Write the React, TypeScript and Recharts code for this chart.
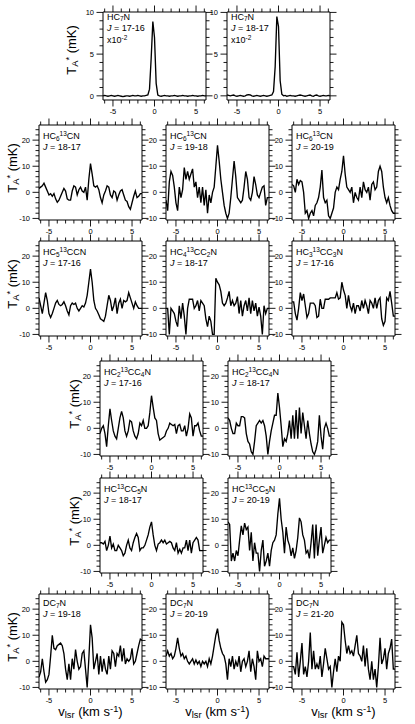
import React from "react";
import { LineChart, Line, XAxis, YAxis } from "recharts";

const FONT = '"Liberation Sans", Arial, Helvetica, sans-serif';

// channel velocities, km/s
const velocity = [
  -6.2, -6.0, -5.8, -5.6, -5.4, -5.2, -5.0, -4.8, -4.6, -4.4,
  -4.2, -4.0, -3.8, -3.6, -3.4, -3.2, -3.0, -2.8, -2.6, -2.4,
  -2.2, -2.0, -1.8, -1.6, -1.4, -1.2, -1.0, -0.8, -0.6, -0.4,
  -0.2, 0, 0.2, 0.4, 0.6, 0.8, 1.0, 1.2, 1.4, 1.6,
  1.8, 2.0, 2.2, 2.4, 2.6, 2.8, 3.0, 3.2, 3.4, 3.6,
  3.8, 4.0, 4.2, 4.4, 4.6, 4.8, 5.0, 5.2, 5.4, 5.6,
  5.8, 6.0, 6.2,
];

const xTicks = [-6, -5, -4, -3, -2, -1, 0, 1, 2, 3, 4, 5, 6];
const xMajor = [-5, 0, 5];
const yTicks = [-10, -8, -6, -4, -2, 0, 2, 4, 6, 8, 10, 12, 14, 16, 18, 20, 22, 24];
const yMajor = [-10, 0, 10, 20];
const yTicksTop = [0, 1, 2, 3, 4, 5, 6, 7, 8, 9, 10];
const yMajorTop = [0, 5, 10];

// HC7N (x10^-2 mK)
const hc7n1716 = [
  0, 0.05, 0, -0.05, 0, 0.05, 0, -0.05, 0, 0.05,
  0, -0.05, -0.1, -0.05, 0, 0, -0.05, 0, 0.05, 0,
  0, 0.05, 0, -0.05, 0, 0, 0.05, 0.1, 0.8, 4.5,
  8.9, 7.0, 1.5, 0.1, 0, -0.05, 0, 0.05, 0, 0,
  -0.05, 0, 0, 0.05, 0, -0.05, 0, 0, 0.05, 0,
  0, -0.05, 0, 0, 0.05, 0, 0, -0.05, 0, 0,
  0.05, 0, 0,
];
const hc7n1817 = [
  0.1, 0.05, 0, 0.05, 0.1, 0, -0.05, 0, 0.05, 0,
  -0.05, 0, 0.1, 0.15, 0.1, 0, -0.05, 0, 0.05, 0,
  -0.05, 0, 0.05, 0, -0.05, 0, 0.05, 0.1, 0.5, 3.5,
  9.5, 8.3, 1.8, 0.2, 0, 0.05, -0.05, 0, 0.05, 0,
  0, -0.05, 0, 0.05, 0.1, 0.05, 0, -0.05, 0, 0.05,
  0.1, 0, -0.05, 0.05, 0.1, 0, -0.05, 0, 0.05, 0,
  0, 0.05, 0,
];

// HC6 13CN
const hc6c1817 = [
  1.5, 2.0, 2.5, 3.5, 2.0, 0.5, -1.0, -0.5, -1.5, -0.5,
  -2.5, -3.8, -3.0, -1.5, 0, 1.5, 0.5, -2.5, -3.0, -3.0,
  0.5, 2.5, 2.0, -1.0, 1.0, 2.0, 0.5, 0.0, 2.0, -3.0,
  5.0, 11.0, 7.0, 2.5, 2.0, 2.5, 1.0, -2.0, -4.0, -1.0,
  0.5, 2.5, 2.0, -1.0, -2.0, 0.5, 0.0, -3.0, -1.0, 0.5,
  1.0, -1.0, -3.0, -3.5, -5.5, -6.5, -4.0, -1.5, 0.5, -2.0,
  -1.5, -0.5, -0.5,
];
const hc6c1918 = [
  -3, -7, 4, 8, 6.5, 2, -4, -7, 2, -2,
  1, 9.5, 5, 8, 5, 7, 9, 2, 4, -2,
  2, -4, 2, -5, 1, -8, -1, -4, 0, 2,
  10, 18, 12, 5, 0, -5, -8, -10, -8, -2,
  5, 12, 6, -2, -3, -4, -3, 2, 8, 5,
  -2, -3, 0, 6, 3, -1, -2, 0, 2, 2.5,
  -5, -2, -2,
];
const hc6c2019 = [
  3, 2.5, 0, 5, 3, 4.5, 4, 0, -8, -7,
  -10, -8, -7, -9, -5, -4, -2, 2, 8.5, -2,
  -4, -3, -9, -10, -8, -6, 0, 2, 1, 5,
  8, 14, 7, 2, 1, 0, 2, -4, 0, -2,
  -3, 2, -2, 4, 1, 0, 2, -3, 3, 4,
  1, 2, 8, 10, 8, 2, -2, -4, -2, -5,
  -7, -8, -8,
];

// HC5 13CCN, HC4 13CC2N, HC3 13CC3N
const hc5c1716 = [
  4, 1, -2, 2, 6, 3, -2, -3.5, -2, 0,
  2, 3, 1.5, 1, 1.5, 2.5, 1, -1, -2.5, 1,
  2, 1.5, 2, 0, -1, 0, 1, 0.5, 2, 5,
  10, 15, 10, 3, 0, -1, -2.5, -4, -4.5, -5,
  -3, 1, 5, 3, -1, 1, 4, -2, 2, 3.5,
  0, 3, 2.5, 3, 6, 4, 2, 0, 2.5, 1,
  0, 0, 0,
];
const hc4c1817 = [
  0, 0, -10, 0, -1, -2, -5, -7, 1, -4,
  2, -3, -10, 0, 3.5, 3.5, 3.5, 0, 1, 3,
  -1, 3, 2, 1, -4, -7, -3, -5, -10, -10,
  11.5, 10, 9, 6.5, 2, 1, 2, 4, 6.5, 1,
  3, 1, 2, 4.5, -2, 3, -3, 1, 3, -1,
  4, -2, 3, -1, 2, -3, 0.5, -3, -10, 1,
  -2, 0, 0,
];
const hc3c1716 = [
  2.5, 2.5, -2, -4.5, 0, 6, 3, 5.5, 1, -3.5,
  -2, 2, 2, 2, 1, -3.5, -3, 3.5, 0, 0,
  3.5, 3.5, 3.5, 4, 4, 4, 4, 6, 3.5, 4,
  10, 7, 5, 0, 5, 1, -1, 2, -2, 1,
  1, -1, 3, 0, 3, 1, -2, 3, 2, 0,
  4, 0, 3, 4, -4, -6.5, -5, 4, 3, 6.5,
  2, -3, -3,
];

// HC2 13CC4N
const hc2c1716 = [
  -2, 0, 1, -2, -7, 1, 7.5, 3, -1, -3,
  -4, 0, 4, 6.5, 4, -1, -3, -1, 3, 2.5,
  -1, -3, -4, -2, 2, 1, 3, 0, 0, 1,
  6, 12.5, 8, 4, 3, -2, -4.5, -4, -3.5, -3,
  -1, 0, 2, 1.5, 1, 1.5, -2, 1, 1.5, -1,
  -1, 1, -3, 0, 5.5, 4, -3, 1, 1, 2,
  -1, -3, -3,
];
const hc2c1817 = [
  4, 3, 0, -2, -2, 2, 1, 1, 4.5, 4.5,
  4, -2, -5, -6, -9, -10, -5, 1, 2, 3,
  2, 3, 1, -3, -10, -5, -1, 2, 5, 5,
  13.5, 8, 1, -7, -4, -5, -2, 3, -4, 5,
  -4, 7, -4, 8, -2, 6, 1, -4, 3, -2,
  -6, -9, -10, -8, -5, 5, -3, -8, 0, 2,
  0, -3, -3,
];

// HC 13CC5N
const hc1c1817 = [
  1, 1, 0.5, 1.5, -2, 0, 3.5, -1, 0.5, -2,
  -2, 0, -1, -2, -4, -3, 0, 2, -1, -2,
  1, 3, 4.5, 3, -2, -1, -1, 0, 2, 4,
  7, 9, 4, 0, -2, 0.5, 1, 2, 1, 2,
  0.5, 1, 1.5, 1, -1, -2, 1, -3, -1.5, -3,
  -1, -1, 2, -2, 2, -3, 1, 2, 3, 2,
  -2, -2, -2,
];
const hc1c2019 = [
  9, 8, -6, -3, -6, -2, -4, 2, 7.5, 4,
  8.5, 6, 7, -2, 5, -6, 1, -3, -3, -10,
  -2, 2, -8, -6, -3, -8, -2, 1, 2, 4,
  12, 18, 10, 5, -3, 7, 2, 0, -4, -1,
  -5, -2, 3, 10.5, 9, 4, 2, -3, -2, -5,
  1, 8, -5, 8, -4, 2, 7, -3, 0, 3,
  1, 2, 2,
];

// DC7N
const dc7n1918 = [
  -6, -4, 1, -4, -8, -7, -5, 2, 10, 5,
  4.5, 6, 6.5, 7, 6, 3, -3, -7, -1, -7,
  1, -3, 4.5, 0, -3, -2, 3, 4, -3, -10,
  1, 14, 9, -3, 0, 3, -5, 2, -4, 1,
  -3, -5, 2, -3, 4, 3, -2, 3, 2, 6,
  0, 5, -1, 1, 0, 1, 5, -1, 0, 3,
  6, 8.5, 8,
];
const dc7n2019 = [
  2, 4, 2, 3, 1, 2, 5, 9, 5, 2,
  3, 1, 2, 0, -1, 0, 1, -1, 0.5, -1,
  0, -2, 0, -1, 0, -2, 1, -1, 2, 6,
  10, 12.5, 8, 5, 3, 2, -1, -7, 1, -2,
  2, -3, 0, -2, 2, -4, 0, 1, -2, 0,
  4, -4, 1, -2, -7, 4, 0, 1, -2, 2,
  1, 1, 1,
];
const dc7n2120 = [
  -2, -2, -5, 3.5, -6, 0, 7, -5, -2, -6,
  0, 11, -3, 4, -3, -1, -3, 2, -6, -1,
  5, 1, -3, -2, -10, -4, 1, -4, 2, 0,
  15, 14, 8, 3, 6, 3, 4, 2, 6, 10,
  3, 2, 0, 6, -2, 5, -3, -7, 0, -7,
  -3, -10, -2, 9, -1, 1, 5, -3, 3, 5,
  8.5, -3, -3,
];

const Sub = ({ t }: { t: string }) => (
  <span style={{ fontSize: "0.72em", position: "relative", top: "0.25em" }}>{t}</span>
);
const Sup = ({ t }: { t: string }) => (
  <span style={{ fontSize: "0.72em", position: "relative", top: "-0.45em" }}>{t}</span>
);

type Side = "bottom" | "top" | "left" | "right";

function makeTick(side: Side, majors: number[], labels: boolean) {
  return function Tick(props: any) {
    const { x, y, payload } = props;
    const v: number = payload.value;
    const major = majors.includes(v);
    const len = major ? 6.5 : 3.5;
    const dx = side === "left" ? -len : side === "right" ? len : 0;
    const dy = side === "bottom" ? len : side === "top" ? -len : 0;
    return (
      <g>
        <line x1={x} y1={y} x2={x + dx} y2={y + dy} stroke="#000" strokeWidth={0.9} />
        {labels && major && side === "bottom" && (
          <text x={x} y={y + 13.5} textAnchor="middle" fontSize={7.5} fontFamily={FONT} fill="#000">
            {v}
          </text>
        )}
        {labels && major && side === "left" && (
          <text x={x - 9} y={y + 2.7} textAnchor="end" fontSize={7.5} fontFamily={FONT} fill="#000">
            {v}
          </text>
        )}
      </g>
    );
  };
}

const bottomTick = makeTick("bottom", xMajor, true);
const topTick = makeTick("top", xMajor, false);
const leftTick = makeTick("left", yMajor, true);
const rightTick = makeTick("right", yMajor, false);
const leftTickTop = makeTick("left", yMajorTop, true);
const rightTickTop = makeTick("right", yMajorTop, false);

const BOX_W = 103;
const ML = 30;
const MR = 8;
const MT = 8;
const MB = 18;

type Panel = {
  x: number;
  y: number;
  values: number[];
  mol: React.ReactNode;
  trans: string;
  top?: boolean;
  textDy: number;
};

const panels: Panel[] = [
  { x: 103, y: 12, values: hc7n1716, top: true, textDy: -0.5, trans: "17-16", mol: <>HC<Sub t="7" />N</> },
  { x: 227, y: 12, values: hc7n1817, top: true, textDy: -0.5, trans: "18-17", mol: <>HC<Sub t="7" />N</> },
  { x: 39, y: 125, values: hc6c1817, textDy: 6, trans: "18-17", mol: <>HC<Sub t="6" /><Sup t="13" />CN</> },
  { x: 166, y: 125, values: hc6c1918, textDy: 6, trans: "19-18", mol: <>HC<Sub t="6" /><Sup t="13" />CN</> },
  { x: 292, y: 125, values: hc6c2019, textDy: 6, trans: "20-19", mol: <>HC<Sub t="6" /><Sup t="13" />CN</> },
  { x: 39, y: 241, values: hc5c1716, textDy: 6, trans: "17-16", mol: <>HC<Sub t="5" /><Sup t="13" />CCN</> },
  { x: 166, y: 241, values: hc4c1817, textDy: 6, trans: "18-17", mol: <>HC<Sub t="4" /><Sup t="13" />CC<Sub t="2" />N</> },
  { x: 292, y: 241, values: hc3c1716, textDy: 6, trans: "17-16", mol: <>HC<Sub t="3" /><Sup t="13" />CC<Sub t="3" />N</> },
  { x: 100, y: 361, values: hc2c1716, textDy: 6, trans: "17-16", mol: <>HC<Sub t="2" /><Sup t="13" />CC<Sub t="4" />N</> },
  { x: 228, y: 361, values: hc2c1817, textDy: 6, trans: "18-17", mol: <>HC<Sub t="2" /><Sup t="13" />CC<Sub t="4" />N</> },
  { x: 100, y: 478, values: hc1c1817, textDy: 6, trans: "18-17", mol: <>HC<Sup t="13" />CC<Sub t="5" />N</> },
  { x: 228, y: 478, values: hc1c2019, textDy: 6, trans: "20-19", mol: <>HC<Sup t="13" />CC<Sub t="5" />N</> },
  { x: 39, y: 594, values: dc7n1918, textDy: 4, trans: "19-18", mol: <>DC<Sub t="7" />N</> },
  { x: 166, y: 594, values: dc7n2019, textDy: 4, trans: "20-19", mol: <>DC<Sub t="7" />N</> },
  { x: 292, y: 594, values: dc7n2120, textDy: 4, trans: "21-20", mol: <>DC<Sub t="7" />N</> },
];

// y-title centres for each row
const yTitles = [
  [72, 50],
  [12.5, 168],
  [12.5, 284],
  [75, 404],
  [75, 521],
  [12.5, 637],
];

function Spectrum({ p }: { p: Panel }) {
  const boxH = p.top ? 88 : 95;
  const domain = p.top ? [-0.5, 10.05] : [-10.6, 25.8];
  const data = velocity.map((v, i) => ({ v, t: p.values[i] }));
  const axisLine = { stroke: "#000", strokeWidth: 1 };
  return (
    <div style={{ position: "absolute", left: p.x - ML, top: p.y - MT }}>
      <LineChart
        width={ML + BOX_W + MR}
        height={MT + boxH + MB}
        data={data}
        margin={{ top: 0, right: 0, bottom: 0, left: 0 }}
      >
        <XAxis
          dataKey="v"
          type="number"
          domain={[-6.2, 6.2]}
          allowDataOverflow
          ticks={xTicks}
          interval={0}
          tickSize={0}
          tickMargin={0}
          tickLine={false}
          tick={bottomTick}
          axisLine={axisLine}
          height={MB}
        />
        <XAxis
          xAxisId="top"
          orientation="top"
          dataKey="v"
          type="number"
          domain={[-6.2, 6.2]}
          allowDataOverflow
          ticks={xTicks}
          interval={0}
          tickSize={0}
          tickMargin={0}
          tickLine={false}
          tick={topTick}
          axisLine={axisLine}
          height={MT}
        />
        <YAxis
          type="number"
          domain={domain}
          allowDataOverflow
          ticks={p.top ? yTicksTop : yTicks}
          interval={0}
          tickSize={0}
          tickMargin={0}
          tickLine={false}
          tick={p.top ? leftTickTop : leftTick}
          axisLine={axisLine}
          width={ML}
        />
        <YAxis
          yAxisId="right"
          orientation="right"
          type="number"
          domain={domain}
          allowDataOverflow
          ticks={p.top ? yTicksTop : yTicks}
          interval={0}
          tickSize={0}
          tickMargin={0}
          tickLine={false}
          tick={p.top ? rightTickTop : rightTick}
          axisLine={axisLine}
          width={MR}
        />
        <Line
          dataKey="t"
          type="linear"
          stroke="#000"
          strokeWidth={1.35}
          dot={false}
          isAnimationActive={false}
        />
      </LineChart>
      <div
        style={{
          position: "absolute",
          left: ML + 4,
          top: MT + p.textDy,
          fontSize: 9,
          lineHeight: "10.3px",
          whiteSpace: "nowrap",
          color: "#000",
        }}
      >
        <div>{p.mol}</div>
        <div>
          <i>J</i> = {p.trans}
        </div>
        {p.top && (
          <div style={{ marginTop: 2 }}>
            x10<Sup t="-2" />
          </div>
        )}
      </div>
    </div>
  );
}

export default function App() {
  const bottomRow = panels.slice(12);
  return (
    <div
      style={{
        position: "absolute",
        left: 0,
        top: 0,
        width: 415,
        height: 724,
        background: "#fff",
        fontFamily: FONT,
        color: "#000",
      }}
    >
      {panels.map((p, i) => (
        <Spectrum key={i} p={p} />
      ))}
      {yTitles.map(([cx, cy], i) => (
        <div
          key={`yt-${i}`}
          style={{
            position: "absolute",
            left: cx,
            top: cy,
            transform: "translate(-50%, -50%) rotate(-90deg)",
            fontSize: 13,
            lineHeight: 1,
            whiteSpace: "nowrap",
          }}
        >
          T<Sub t="A" />
          <Sup t="*" /> (mK)
        </div>
      ))}
      {bottomRow.map((p, i) => (
        <div
          key={`xt-${i}`}
          style={{
            position: "absolute",
            left: p.x + BOX_W / 2,
            top: 712,
            transform: "translate(-50%, -50%)",
            fontSize: 13,
            lineHeight: "15px",
            whiteSpace: "nowrap",
          }}
        >
          v<Sub t="lsr" /> (km s<Sup t="-1" />)
        </div>
      ))}
    </div>
  );
}
